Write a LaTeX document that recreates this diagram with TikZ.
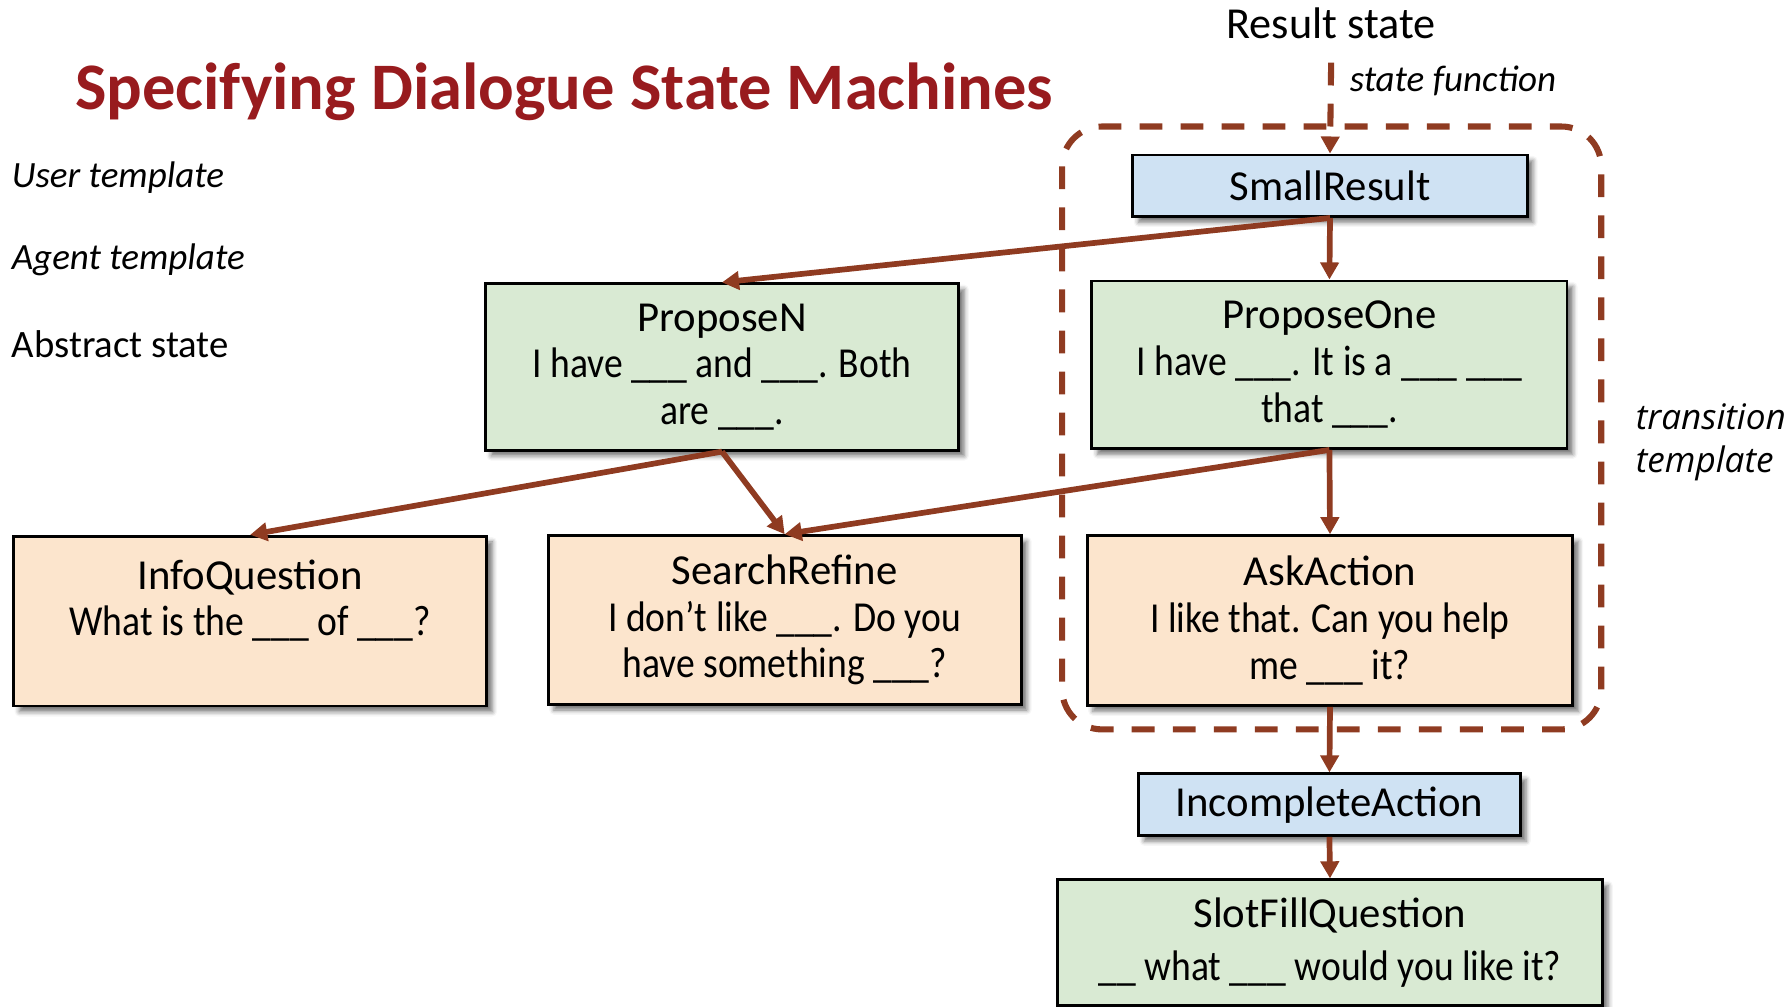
\documentclass[tikz,border=0pt]{standalone}
\usepackage{fontspec}
\setmainfont{Carlito}
\newfontfamily\bodyfont[FakeStretch=0.88]{Carlito}
\newfontfamily\notefont{Open Sans}
\usetikzlibrary{arrows.meta,shadows.blur}
\definecolor{arrowbrown}{RGB}{143,59,33}
\definecolor{titlered}{RGB}{152,27,30}
\definecolor{stateblue}{RGB}{207,226,243}
\definecolor{agentgreen}{RGB}{217,234,211}
\definecolor{userorange}{RGB}{252,229,205}
\begin{document}
\begin{tikzpicture}[x=0.6pt,y=-0.6pt,
  box/.style={draw=black, line width=1.5pt, align=center, inner sep=0pt,
    blur shadow={shadow xshift=3pt, shadow yshift=-3pt,
      shadow blur radius=2.5pt, shadow opacity=55},
    font=\fontsize{22.5}{24.6}\selectfont},
  abstractbox/.style={box, fill=stateblue},
  agentbox/.style={box, fill=agentgreen},
  userbox/.style={box, fill=userorange},
  tip/.style={-{Triangle[length=9pt,width=9.5pt]}},
  flow/.style={draw=arrowbrown, line width=3pt, tip},
  grouping/.style={draw=arrowbrown, line width=3.2pt, dash pattern=on 12pt off 9.6pt},
  sidelabel/.style={anchor=west, inner sep=0pt, font=\fontsize{20.4}{24}\selectfont},
]
\useasboundingbox (0,0) rectangle (1568,883);

% title and side labels
\node[anchor=base, inner sep=0pt, text=titlered,
  font=\fontsize{35}{40}\selectfont\bfseries] (title) at (495,96)
  {Specifying Dialogue State Machines};
\node[sidelabel, font=\fontsize{19.5}{24}\selectfont\itshape] (userlbl) at (10,156) {User template};
\node[sidelabel, font=\fontsize{19.5}{24}\selectfont\itshape] (agentlbl) at (10,228) {Agent template};
\node[sidelabel] (abstractlbl) at (10,302) {Abstract state};

\node[anchor=base, inner sep=0pt, font=\fontsize{23.3}{26}\selectfont] (resultlbl) at (1168,34) {Result state};
\node[anchor=base west, inner sep=0pt, font=\fontsize{19.5}{22}\selectfont\itshape] (funclbl) at (1184,80) {state function};
\node[anchor=west, inner sep=0pt, align=left, font=\notefont\itshape\fontsize{18.5}{22.8}\selectfont] (translbl) at (1435,388) {transition\\template};

% dashed outline of the transition template
\draw[grouping, rounded corners=21pt] (932,111) rectangle (1405,640);

% states and templates
\node[abstractbox, minimum width=207.6pt, minimum height=32.4pt] (small) at (1167,163) {SmallResult};
\node[agentbox, minimum width=250.2pt, minimum height=88.2pt] (pone) at (1166.5,320)
  {ProposeOne\\\bodyfont I have \_\_\_. It is a \_\_\_ \_\_\_\\\bodyfont that \_\_\_.};
\node[userbox, minimum width=255.6pt, minimum height=89.4pt] (ask) at (1167,544.5)
  {AskAction\\\bodyfont I like that. Can you help\\\bodyfont me \_\_\_ it?};
\node[abstractbox, minimum width=201pt, minimum height=32.4pt] (incomplete) at (1166.5,706) {IncompleteAction};
\node[agentbox, minimum width=286.8pt, minimum height=66pt,
  font=\fontsize{22.5}{27.6}\selectfont] (slot) at (1167,827)
  {SlotFillQuestion\\\bodyfont\_\_ what \_\_\_ would you like it?};
\node[agentbox, minimum width=249pt, minimum height=87.6pt] (pn) at (633.5,322)
  {ProposeN\\\bodyfont I have \_\_\_ and \_\_\_. Both\\\bodyfont are \_\_\_.};
\node[userbox, minimum width=249pt, minimum height=89.4pt] (info) at (219.5,545)
  {InfoQuestion\\\bodyfont What is the \_\_\_ of \_\_\_?\\\mbox{}};
\node[userbox, minimum width=249pt, minimum height=88.8pt] (refine) at (688.5,544)
  {SearchRefine\\\bodyfont I don’t like \_\_\_. Do you\\\bodyfont have something \_\_\_?};

% transitions
\coordinate (functop) at (1168,55);
\draw[grouping, tip] (functop) -- (small.north);
\draw[flow] (small.south) -- (pn.north);
\draw[flow] (small.south) -- (pone.north);
\draw[flow] (pn.south) -- (info.north);
\draw[flow] (pn.south) -- (refine.north);
\draw[flow] (pone.south) -- (refine.north);
\draw[flow] (pone.south) -- (ask.north);
\draw[flow] (ask.south) -- (incomplete.north);
\draw[flow] (incomplete.south) -- (slot.north);
\end{tikzpicture}
\end{document}
